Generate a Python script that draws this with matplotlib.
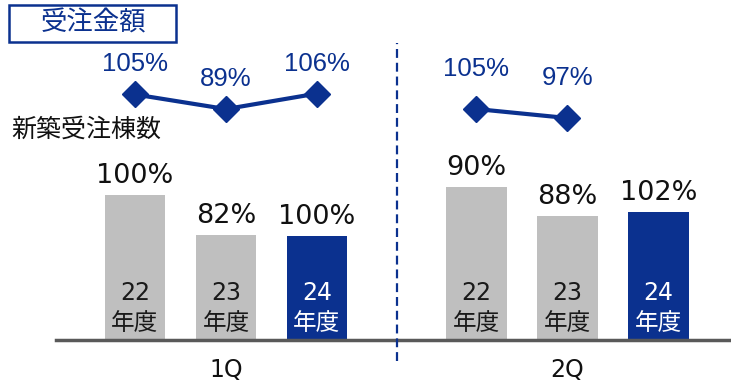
import matplotlib.pyplot as plt
from matplotlib.patches import Rectangle

plt.rcParams['font.family'] = ['DejaVu Sans', 'Noto Sans CJK JP']

# data
quarters = ['1Q', '2Q']
years = ['22', '23', '24']
# new-build order counts (index, 1Q FY22 = 100)
counts_1q = [100, 72.4, 71.7]
counts_2q = [105.5, 85.5, 88.3]
count_labels_1q = ['100%', '82%', '100%']
count_labels_2q = ['90%', '88%', '102%']
# order amount, YoY %
amount_1q = [105, 89, 106]
amount_2q = [105, 97]

blue = '#0b318f'
gray = '#bfbfbf'
ink = '#111111'

fig = plt.figure(figsize=(7.31, 3.85), dpi=100)

# bar axes, one x unit = 91 px, one y unit = 1.45 px
x1 = [0, 1, 2]
x2 = [3.75, 4.75, 5.75]
xlim = (-135 / 91, (731 - 135) / 91)
ax = fig.add_axes([0, 45 / 385, 1, 340 / 385])
ax.set_xlim(*xlim)
ax.set_ylim(0, 340 / 1.45)
ax.axis('off')
px = 1 / 1.45

bar_colors = [gray, gray, blue]
txt_colors = ['#1a1a1a', '#1a1a1a', 'white']
for xs, vals, labs in [(x1, counts_1q, count_labels_1q), (x2, counts_2q, count_labels_2q)]:
    ax.bar(xs, vals, width=0.67, color=bar_colors)
    for x, v, lab, y, tc in zip(xs, vals, labs, years, txt_colors):
        ax.text(x, v + 12 * px, lab, ha='center', va='baseline', fontsize=19.5, color=ink)
        ax.text(x, 47 * px, y, ha='center', va='center', fontsize=17, color=tc)
        ax.text(x, 16 * px, '年度', ha='center', va='center', fontsize=17, color=tc,
                family=['Noto Sans CJK JP'])

# baseline
fig.add_artist(plt.Line2D([56 / 731, 1], [45 / 385, 45 / 385], color='#595959', lw=2.5))
# divider
fig.add_artist(plt.Line2D([397 / 731, 397 / 731], [24 / 385, 342 / 385], color=blue, lw=1.6,
                          ls=(0, (4, 2.2))))

# quarter labels
for xs, q in zip([x1, x2], quarters):
    ax.text(xs[1], -30 * px, q, ha='center', va='center', fontsize=17, color=ink)

# line axes, one per quarter (separate scales)
for xs, vals, lo, hi, off in [(x1, amount_1q, -213.6, 208.6, 23),
                              (x2[:2], amount_2q, -140.3, 201.9, 33)]:
    lax = fig.add_axes([0, 0, 1, 1])
    lax.set_xlim(*xlim)
    lax.set_ylim(lo, hi)
    lax.axis('off')
    lax.plot(xs, vals, color=blue, lw=3.0, marker='D', ms=13)
    per_px = (hi - lo) / 385
    for x, v in zip(xs, vals):
        lax.text(x, v + off * per_px, f'{v}%', ha='center', va='baseline', fontsize=18.5,
                 color=blue, family=['Liberation Sans', 'DejaVu Sans'])

# title box
fig.add_artist(Rectangle((9 / 731, 1 - 42 / 385), 167 / 731, 37 / 385, transform=fig.transFigure,
                         fill=False, edgecolor=blue, lw=1.8))
fig.text(93 / 731, 1 - 23 / 385, '受注金額', ha='center', va='center', fontsize=19, color=blue,
         family=['Noto Sans CJK JP'])
fig.text(11 / 731, 1 - 130 / 385, '新築受注棟数', ha='left', va='center', fontsize=18, color=ink,
         family=['Noto Sans CJK JP'])

fig.savefig('out.png', dpi=100)
